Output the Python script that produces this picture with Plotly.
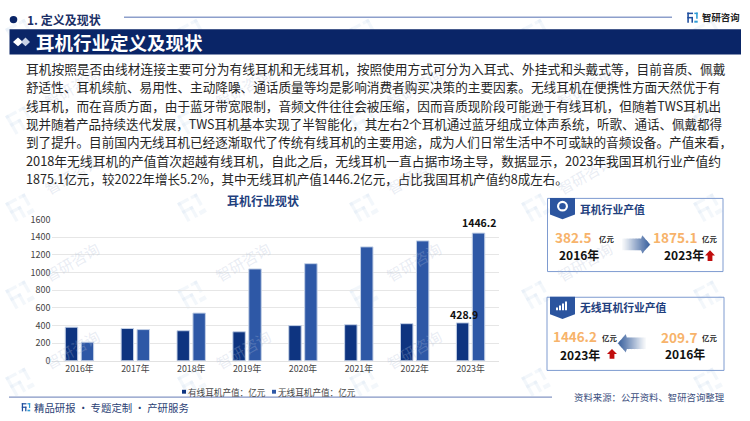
import math
import plotly.graph_objects as go

years = ["2016年", "2017年", "2018年", "2019年", "2020年", "2021年", "2022年", "2023年"]
wired = [380, 365, 340, 328, 398, 408, 420, 428.9]
wireless = [209.7, 353, 540, 1040, 1100, 1290, 1358, 1446.2]
wired_labels = ["", "", "", "", "", "", "", "428.9"]
wireless_labels = ["", "", "", "", "", "", "", "1446.2"]
y_ticks = [0, 200, 400, 600, 800, 1000, 1200, 1400, 1600]
series_names = ["有线耳机产值：亿元", "无线耳机产值：亿元"]

paragraph = [
    "耳机按照是否由线材连接主要可分为有线耳机和无线耳机，按照使用方式可分为入耳式、外挂式和头戴式等，目前音质、佩戴",
    "舒适性、耳机续航、易用性、主动降噪、通话质量等均是影响消费者购买决策的主要因素。无线耳机在便携性方面天然优于有",
    "线耳机，而在音质方面，由于蓝牙带宽限制，音频文件往往会被压缩，因而音质现阶段可能逊于有线耳机，但随着TWS耳机出",
    "现并随着产品持续迭代发展，TWS耳机基本实现了半智能化，其左右2个耳机通过蓝牙组成立体声系统，听歌、通话、佩戴都得",
    "到了提升。目前国内无线耳机已经逐渐取代了传统有线耳机的主要用途，成为人们日常生活中不可或缺的音频设备。产值来看，",
    "2018年无线耳机的产值首次超越有线耳机，自此之后，无线耳机一直占据市场主导，数据显示，2023年我国耳机行业产值约",
    "1875.1亿元，较2022年增长5.2%，其中无线耳机产值1446.2亿元，占比我国耳机产值约8成左右。",
]
line_y = [63.5, 82.5, 101.3, 120.2, 139, 158, 176.5]
line_size = [12.72, 12.63, 12.64, 12.53, 12.62, 12.78, 12.55]

W, H = 750, 421
CJK = "Noto Sans CJK SC, Noto Sans, sans-serif"
NAVY = "#0A2567"
ORANGE = "#F7B36B"
C_WIRED = "#0E3480"
C_WIRELESS = "#2E58A6"


def X(p):
    return p / W


def Y(p):
    return 1 - p / H


shapes, notes = [], []


def text(x, y, s, size, color="#222222", bold=False, anchor="left", angle=0):
    t = f"<b>{s}</b>" if bold else s
    notes.append(dict(x=X(x), y=Y(y), xref="paper", yref="paper", text=t, showarrow=False,
                      xanchor=anchor, yanchor="middle", font=dict(family=CJK, size=size, color=color),
                      textangle=angle, borderpad=0, borderwidth=0))


def poly(points, fill, layer="above", opacity=1):
    d = "M " + " L ".join(f"{X(a):.5f},{Y(b):.5f}" for a, b in points) + " Z"
    shapes.append(dict(type="path", path=d, xref="paper", yref="paper", fillcolor=fill,
                       line=dict(width=0), layer=layer, opacity=opacity))


def rect(x0, y0, x1, y1, fill="rgba(0,0,0,0)", line=None, lw=0, layer="above", opacity=1):
    shapes.append(dict(type="rect", x0=X(x0), x1=X(x1), y0=Y(y0), y1=Y(y1), xref="paper", yref="paper",
                       fillcolor=fill, line=dict(width=lw, color=line or fill), layer=layer, opacity=opacity))


def hline(x0, x1, y, color, lw):
    shapes.append(dict(type="line", x0=X(x0), x1=X(x1), y0=Y(y), y1=Y(y), xref="paper", yref="paper",
                       line=dict(color=color, width=lw), layer="above"))


def circle(cx, cy, r, fill, lw=0, line=None):
    shapes.append(dict(type="circle", x0=X(cx - r), x1=X(cx + r), y0=Y(cy - r), y1=Y(cy + r), xref="paper",
                       yref="paper", fillcolor=fill, line=dict(width=lw, color=line or fill), layer="above"))


def logo(x, y, s, c1, c2, layer="above", angle=0.0, opacity=1):
    """Small company mark made of a few rectangles; x, y is the centre."""
    ca, sa = math.cos(angle), math.sin(angle)
    def rot(a, b):
        return (x + (a * ca - b * sa) * s, y + (a * sa + b * ca) * s)
    bars = [((-1, -1), (0.1, -0.7), c1), ((-1, -1), (-0.7, 1), c1), ((-1, -0.15), (0.1, 0.15), c1),
            ((-0.2, -0.15), (0.1, 1), c1), ((0.35, -1), (1, -0.7), c2), ((0.7, -1), (1, 0.2), c2),
            ((0.35, 0.6), (1, 1), c2)]
    for (a0, b0), (a1, b1), c in bars:
        poly([rot(a0, b0), rot(a1, b0), rot(a1, b1), rot(a0, b1)], c, layer=layer, opacity=opacity)


def red_up(cx, top, bottom):
    m = top + (bottom - top) * 0.5
    poly([(cx, top), (cx + 5, m), (cx + 2.4, m), (cx + 2.4, bottom), (cx - 2.4, bottom),
          (cx - 2.4, m), (cx - 5, m)], "#C00D0D")


def grad_arrow(x_tail, x_tip, cy, half):
    """Arrow fading towards its tail, drawn as thin vertical slices."""
    n = 28
    sgn = 1 if x_tip > x_tail else -1
    total = abs(x_tip - x_tail)
    head = total * 0.3
    for i in range(n):
        p0, p1 = total * i / n, total * (i + 1) / n + 0.3
        def h(p):
            if p <= total - head:
                return half * 0.6
            return half * (total - p) / head
        op = 0.04 + 0.96 * (i / (n - 1)) ** 1.2
        a0, a1 = x_tail + sgn * p0, x_tail + sgn * p1
        poly([(a0, cy - h(p0)), (a1, cy - h(p1)), (a1, cy + h(p1)), (a0, cy + h(p0))], "#3D639F", opacity=op)


# watermark
for ox in (72, 243, 414, 585):
    for oy in (83, 173, 263, 353):
        if (ox, oy) in ((243, 173), (585, 353)):
            continue
        text(ox, oy, "智研咨询", 15, "rgba(176,190,214,0.28)", angle=-30, anchor="center")
for i in range(0, 5):
    for j in range(0, 5):
        logo(20 + 172 * i, 27 + 90 * j, 11, "rgba(200,217,238,0.22)", "rgba(200,217,238,0.22)",
             layer="below", angle=-0.5)

# header
circle(13.5, 13, 3.8, NAVY)
text(27, 13, "1. 定义及现状", 12, "#1B2F66", bold=True)
hline(124, 672, 10.5, "#8D9FCB", 1.5)
logo(692.5, 11, 5.2, "#1F4E9E", "#2E9BD6")
text(702, 10, "智研咨询", 9.4, "#222222", bold=True)
rect(9.5, 23, 741, 49, NAVY)
poly([(13, 36), (18, 31.5), (23, 36), (18, 40.5)], "#FFFFFF")
poly([(21, 36), (25.5, 31.5), (30, 36), (25.5, 40.5)], "#C8D2E6")
text(35.5, 36.5, "耳机行业定义及现状", 18.5, "#FFFFFF", bold=True)

# paragraph
for s, ly, sz in zip(paragraph, line_y, line_size):
    text(26, ly, s, sz, "#262626")

# footer
hline(9, 552, 402.5, "#8496C4", 1.3)
logo(26, 413, 4.2, "#1F4E9E", "#2E9BD6")
text(34, 413, "精品研报 · 专题定制 · 产研服务", 10.4, "#2B4175")
text(574, 402, "资料来源：公开资料、智研咨询整理", 9.4, "#3C4F80")

# chart title and legend
text(263, 200, "耳机行业现状", 12, "#1F3F7E", bold=True, anchor="center")
rect(182, 395, 186, 399, C_WIRED)
text(188, 397, series_names[0], 8.6, "#444444")
rect(272, 395, 276, 399, C_WIRELESS)
text(278, 397, series_names[1], 8.6, "#444444")

# card 1
rect(547.5, 197.5, 723, 273, "rgba(0,0,0,0)", "#7E9BD0", 1)
poly([(550, 197), (575, 197), (575, 214), (562.5, 219), (550, 214)], "#2C559F")
circle(562.5, 205.5, 5.5, "#FFFFFF")
circle(562.5, 205.5, 3.3, "#2C559F")
text(580, 208, "耳机行业产值", 10.8, "#1F3F7E", bold=True)
text(555, 237, "382.5", 13.6, ORANGE, bold=True)
text(599, 239, "亿元", 7.4, "#222222", bold=True)
text(559, 255, "2016年", 12, "#111111", bold=True)
grad_arrow(622, 650, 245, 10)
text(653, 237, "1875.1", 13.6, ORANGE, bold=True)
text(702, 239, "亿元", 7.4, "#222222", bold=True)
text(664, 255, "2023年", 12, "#111111", bold=True)
red_up(710, 251, 262)

# card 2
rect(547, 299.5, 724, 375, "rgba(0,0,0,0)", "#7E9BD0", 1)
poly([(550, 299), (575, 299), (575, 317), (562.5, 322), (550, 317)], "#2C559F")
for k, hgt in enumerate([3, 5, 7, 9]):
    rect(556 + k * 3, 313 - hgt, 558 + k * 3, 313, "#FFFFFF")
text(580, 310, "无线耳机行业产值", 10.8, "#1F3F7E", bold=True)
text(553, 339.4, "1446.2", 13.4, ORANGE, bold=True)
text(602, 341, "亿元", 7.4, "#222222", bold=True)
text(560, 358.6, "2023年", 12, "#111111", bold=True)
red_up(612, 353, 363)
grad_arrow(646, 618, 347, 10)
text(661, 340, "209.7", 13.6, ORANGE, bold=True)
text(702, 341, "亿元", 7.4, "#222222", bold=True)
text(665, 358, "2016年", 12, "#111111", bold=True)

edge = dict(color="#C3D0E6", width=1)
fig = go.Figure()
fig.add_bar(name=series_names[0], x=years, y=wired, marker=dict(color=C_WIRED, line=edge), cliponaxis=False)
fig.add_bar(name=series_names[1], x=years, y=wireless, marker=dict(color=C_WIRELESS, line=edge), cliponaxis=False)

# value labels tied to the axes, so they stay above both bars
for year, value, label in zip(years, wired, wired_labels):
    if label:
        notes.append(dict(x=year, y=value, xref="x", yref="y", text=f"<b>{label}</b>", showarrow=False,
                          xshift=-7, yshift=-1, yanchor="bottom", font=dict(family=CJK, size=10.5, color="#111111")))
for year, value, label in zip(years, wireless, wireless_labels):
    if label:
        notes.append(dict(x=year, y=value, xref="x", yref="y", text=f"<b>{label}</b>", showarrow=False,
                          xshift=8, yshift=1, yanchor="bottom", font=dict(family=CJK, size=10.5, color="#111111")))

fig.update_layout(
    width=W, height=H, margin=dict(l=0, r=0, t=0, b=0), autosize=False,
    paper_bgcolor="#FFFFFF", plot_bgcolor="rgba(0,0,0,0)",
    barmode="group", bargap=0.43, bargroupgap=0.22, showlegend=False,
    xaxis=dict(domain=[X(51.5), X(498.5)], showgrid=False, showline=True, linecolor="#E2E2E2",
               ticks="", tickfont=dict(family=CJK, size=8.8, color="#444444"), fixedrange=True),
    yaxis=dict(domain=[Y(365), Y(219.3)], range=[0, 1600], tickvals=y_ticks, gridcolor="#E6E6E6",
               gridwidth=1, zeroline=False, showline=False, ticks="",
               tickfont=dict(family=CJK, size=9, color="#444444"), fixedrange=True),
    shapes=shapes, annotations=notes,
)
fig.write_html("out.html", config=dict(displayModeBar=False),
               post_script="document.body.style.margin='0';document.body.style.overflow='hidden';")
